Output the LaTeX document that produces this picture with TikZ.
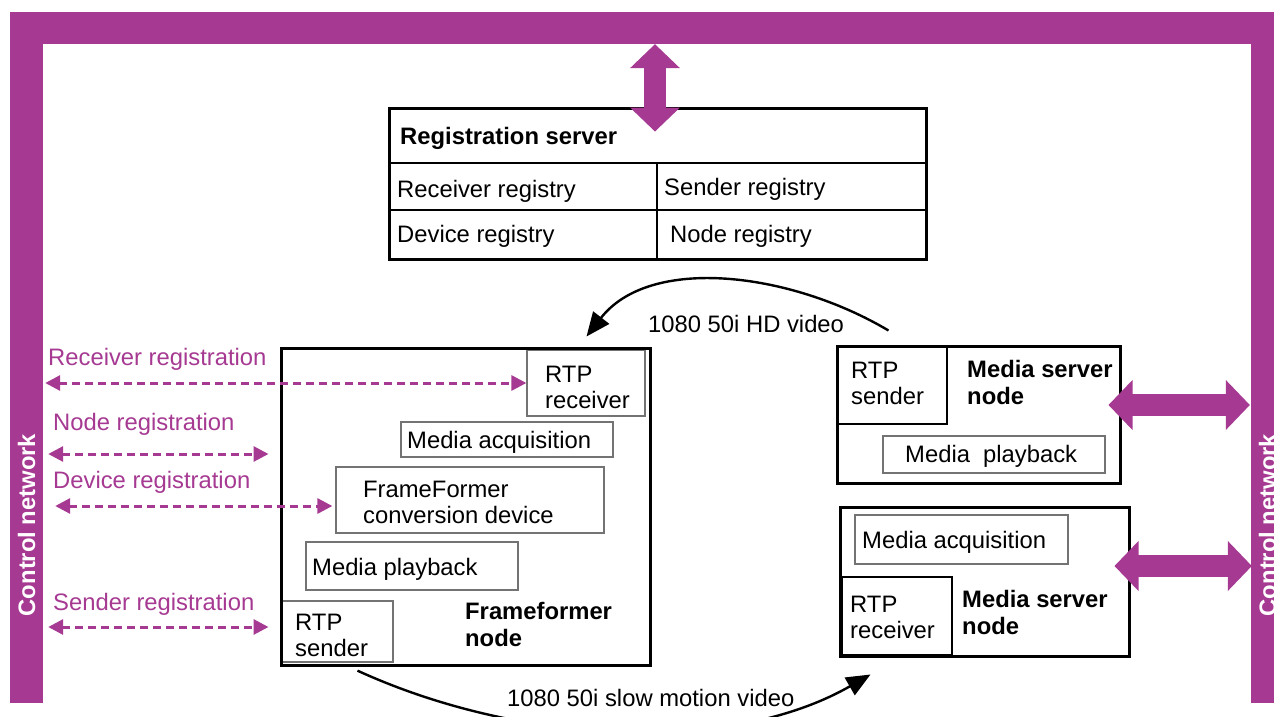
\documentclass[tikz,border=0pt]{standalone}
\usepackage{fontspec}
\setmainfont{Liberation Sans}
\usetikzlibrary{arrows.meta,fit,calc}
\definecolor{netpurple}{RGB}{166,58,146}
\definecolor{boxgray}{RGB}{115,115,115}
\newcommand{\dfont}{\fontsize{23.8}{26}\selectfont}
\newcommand{\bfont}{\fontsize{23.8}{27}\selectfont\bfseries}
\begin{document}
\begin{tikzpicture}[x=1pt,y=-1pt,
  bar/.style={fill=netpurple, draw=none, inner sep=0pt},
  bartxt/.style={rotate=90, text=white, font=\bfont, inner sep=0pt},
  bigbox/.style={draw=black, line width=3pt, inner sep=0pt},
  inbox/.style={draw=boxgray, line width=1.3pt, inner sep=0pt},
  blkbox/.style={draw=black, line width=1.5pt, inner sep=0pt},
  cell/.style={draw=black, line width=1.5pt, inner sep=0pt},
  txt/.style={anchor=west, inner sep=0pt, align=left, font=\dfont, yshift=-2.5pt},
  btxt/.style={anchor=west, inner sep=0pt, align=left, font=\bfont, yshift=-2.5pt},
  ptxt/.style={anchor=west, inner sep=0pt, font=\dfont, text=netpurple, yshift=-2.5pt},
  regarrow/.style={draw=netpurple, line width=3pt, dash pattern=on 8pt off 5pt,
    {Triangle[length=15pt,width=15pt]}-{Triangle[length=15pt,width=15pt]}},
  blockarr/.style={draw=netpurple, line width=22pt,
    {Triangle[length=24pt,width=50pt,line width=0pt]}-{Triangle[length=24pt,width=50pt,line width=0pt]}},
  blockshaft/.style={draw=netpurple, line width=22pt, shorten <=20pt, shorten >=20pt},
  vidarrow/.style={draw=black, line width=2.4pt, -{Triangle[length=24pt,width=20pt]}}
]
\clip (0,0) rectangle (1274,717);
\useasboundingbox (0,0) rectangle (1274,717);
\fill[white] (0,0) rectangle (1274,717);

% control network bars
\node[bar, fit={(10,12) (1284,44)}] (tbar) {};
\node[bar, fit={(10,12) (43,703)}] (lbar) {};
\node[bar, fit={(1251,12) (1284,703)}] (rbar) {};
\node[bartxt] (ltxt) at (26.5,525) {Control network};
\node[bartxt] (rtxt) at (1267.5,525) {Control network};

% registration server
\node[cell, fit={(389,163) (657,210)}] (recreg) {};
\node[cell, fit={(657,163) (926,210)}] (sndreg) {};
\node[cell, fit={(389,210) (657,259)}] (devreg) {};
\node[cell, fit={(657,210) (926,259)}] (nodreg) {};
\node[bigbox, fit={(389,108) (926,259)}] (regsrv) {};
\node[btxt] (regtitle) at (400,136) {Registration server};
\node[txt] (rectxt) at (397,189) {Receiver registry};
\node[txt] (sndtxt) at (664,187) {Sender registry};
\node[txt] (devtxt) at (397,234) {Device registry};
\node[txt] (nodtxt) at (670,234) {Node registry};

% frameformer node
\node[inbox, fit={(527,350) (645,416)}] (ffrx) {};
\node[inbox, fit={(401,422) (613,457)}] (ffacq) {};
\node[inbox, fit={(336,467) (604,533)}] (ffconv) {};
\node[inbox, fit={(306,542) (518,590)}] (ffplay) {};
\node[inbox, fit={(282,601) (393,662)}] (fftx) {};
\node[bigbox, fit={(281,348) (650,665)}] (ffn) {};
\node[txt] (ffrxtxt) at (545,385) {RTP\\receiver};
\node[txt] (ffacqtxt) at (407,440) {Media acquisition};
\node[txt] (ffconvtxt) at (363,500) {FrameFormer\\conversion device};
\node[txt] (ffplaytxt) at (312,567) {Media playback};
\node[txt] (fftxtxt) at (295,633) {RTP\\sender};
\node[btxt] (fftitle) at (465,622) {Frameformer\\node};

% media server node 1
\node[blkbox, fit={(837,346) (947,424)}] (ms1tx) {};
\node[inbox, fit={(883,436) (1105,473)}] (ms1play) {};
\node[bigbox, fit={(837,346) (1120,483)}] (ms1) {};
\node[txt] (ms1txtxt) at (851,381) {RTP\\sender};
\node[btxt] (ms1title) at (967,380) {Media server\\node};
\node[txt] (ms1playtxt) at (905,454) {Media\ \ playback};

% media server node 2
\node[inbox, fit={(855,515) (1068,564)}] (ms2acq) {};
\node[blkbox, fit={(842,577) (952,655)}] (ms2rx) {};
\node[bigbox, fit={(840,507) (1129,656)}] (ms2) {};
\node[txt] (ms2acqtxt) at (862,540) {Media acquisition};
\node[txt] (ms2rxtxt) at (850,615) {RTP\\receiver};
\node[btxt] (ms2title) at (962,610) {Media server\\node};

% registration arrows
\coordinate (ynode) at (0,454);
\coordinate (ydev) at (0,506);
\coordinate (ysnd) at (0,627);
\draw[regarrow] ($(lbar.east |- ffrx.west)+(2,0)$) -- (ffrx.west);
\draw[regarrow] ($(lbar.east |- ynode)+(5,0)$) -- ($(ffn.west |- ynode)+(-11,0)$);
\draw[regarrow] ($(lbar.east |- ydev)+(12,0)$) -- ($(ffconv.west |- ydev)+(-3,0)$);
\draw[regarrow] ($(lbar.east |- ysnd)+(5,0)$) -- ($(ffn.west |- ysnd)+(-11,0)$);
\node[ptxt] (lrec) at (48,357) {Receiver registration};
\node[ptxt] (lnode) at (53,422) {Node registration};
\node[ptxt] (ldev) at (53,480) {Device registration};
\node[ptxt] (lsnd) at (53,602) {Sender registration};

% block arrows to the control network
\coordinate (ya1) at (0,405);
\coordinate (ya2) at (0,566);
\coordinate (va) at ($(tbar.south -| regsrv.north)+(-2.5,0)$);
\coordinate (vb) at ($(regsrv.north)+(-2.5,25)$);
\coordinate (ha) at ($(ms1.east |- ya1)+(-13,0)$);
\coordinate (hb) at ($(rbar.west |- ya1)+(-1,0)$);
\coordinate (hc) at ($(ms2.east |- ya2)+(-16,0)$);
\coordinate (hd) at ($(rbar.west |- ya2)+(1,0)$);
\draw[blockshaft] (va) -- (vb);
\draw[blockshaft] (ha) -- (hb);
\draw[blockshaft] (hc) -- (hd);
\draw[blockarr] (va) -- (vb);
\draw[blockarr] (ha) -- (hb);
\draw[blockarr] (hc) -- (hd);

% video streams
\draw[vidarrow] ($(ms1.north west)+(53,-14)$) .. controls (790,272) and (650,255) .. ($(ffn.north east)+(-65,-10)$);
\node[txt] (hdlbl) at (648,321) {1080 50i HD video};
\draw[vidarrow] ($(fftx.south)+(20,8)$) .. controls (520,745) and (730,755) .. ($(ms2.south west)+(32,17)$);
\node[txt] (smlbl) at (507,695) {1080 50i slow motion video};
\end{tikzpicture}
\end{document}
